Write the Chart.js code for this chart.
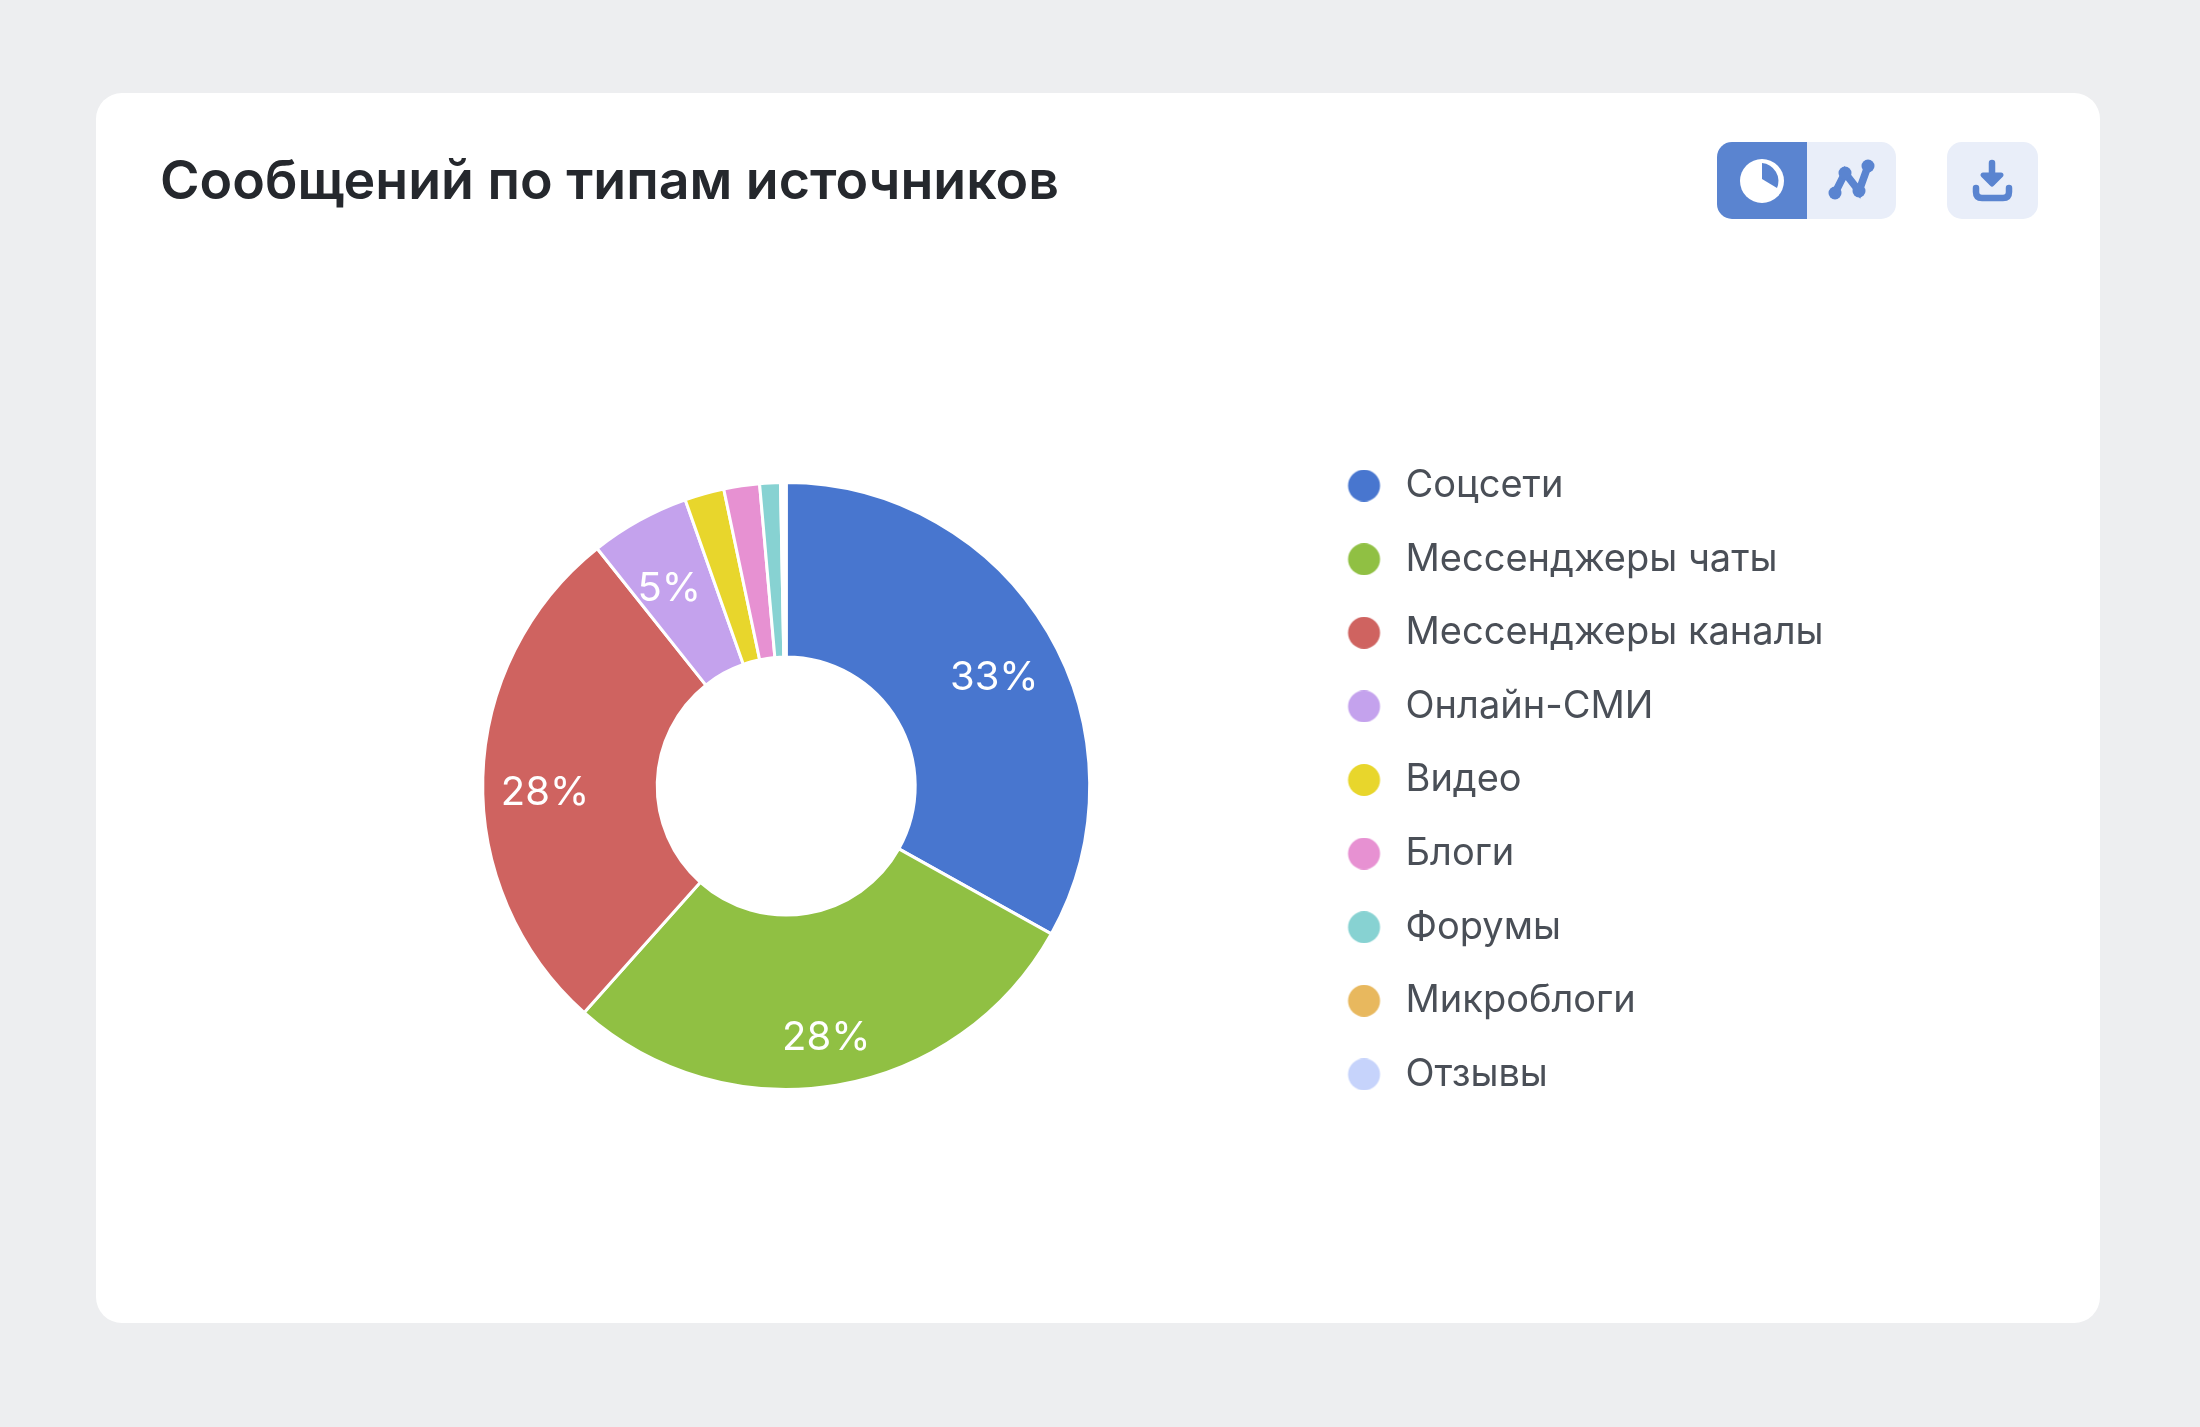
<!DOCTYPE html>
<html lang="ru"><head><meta charset="utf-8">
<style>
html,body{margin:0;padding:0;width:2200px;height:1427px;background:#edeef0;overflow:hidden;font-family:Inter,sans-serif}
#card{position:absolute;left:96px;top:93px;width:2004px;height:1230px;background:#fff;border-radius:26px}
#title{position:absolute;left:160px;top:144px;margin:0;font:600 53.7px/72px Inter,sans-serif;color:#25282d;white-space:nowrap}
.btn{position:absolute;top:142px;height:77px;background:#e9eef9}
.btn svg{display:block}
#b1{left:1717px;width:90px;background:#5a84d0;border-radius:15px 0 0 15px}
#b2{left:1807px;width:89px;border-radius:0 15px 15px 0}
#b3{left:1947px;width:91px;border-radius:15px}
#wrap{position:absolute;left:96px;top:200px;width:2004px;height:1172px}
</style>
<script src="https://cdn.jsdelivr.net/npm/chart.js@4/dist/chart.umd.js"></script>
</head><body>
<div id="card"></div>
<h1 id="title">Сообщений по типам источников</h1>
<div class="btn" id="b1"><svg width="90" height="77" viewBox="0 0 90 77"><circle cx="45" cy="39" r="22" fill="#fff"/><path d="M45 21A18 18 0 0 1 60 46L45 37Z" fill="#5a84d0"/></svg></div>
<div class="btn" id="b2"><svg width="89" height="77" viewBox="0 0 89 77"><path d="M28 51L38 31L52 49L61 24" fill="none" stroke="#5a84d0" stroke-width="7.5"/><circle cx="28" cy="51" r="6.5" fill="#5a84d0"/><circle cx="38" cy="31" r="6.5" fill="#5a84d0"/><circle cx="52" cy="49" r="6.5" fill="#5a84d0"/><circle cx="61" cy="24" r="6.5" fill="#5a84d0"/></svg></div>
<div class="btn" id="b3"><svg width="91" height="77" viewBox="0 0 91 77"><path d="M45 21V40" stroke="#5a84d0" stroke-width="6.5" stroke-linecap="round"/><path d="M36 33H54L45 42Z" fill="#5a84d0" stroke="#5a84d0" stroke-width="5" stroke-linejoin="round"/><path d="M29 46V50Q29 56 35 56H56Q62 56 62 50V46" fill="none" stroke="#5a84d0" stroke-width="6.5" stroke-linecap="round"/></svg></div>
<div id="wrap"><canvas id="c" width="2004" height="1172"></canvas></div>
<script>
const categories = ["Соцсети","Мессенджеры чаты","Мессенджеры каналы","Онлайн-СМИ","Видео","Блоги","Форумы","Микроблоги","Отзывы"];
const shareValues = [33.1,28.49,27.71,5.3,2.1,1.9,1.1,0.15,0.15];
const sliceColors = ["#4876cf","#90c043","#cf6360","#c4a2ed","#e8d62c","#e791d2","#87d2d2","#e8b85e","#c6d3fb"];

function dot(color){
  const k=document.createElement('canvas');k.width=40;k.height=32;
  const x=k.getContext('2d');x.fillStyle=color;x.beginPath();x.arc(17.5,16,16,0,Math.PI*2);x.fill();
  return k;
}
const legendNudge={id:'legendNudge',afterLayout(chart){chart.legend.top-=6;chart.legend.bottom-=6;}};
const pctLabels={id:'pctLabels',afterDatasetsDraw(chart){
  const ctx=chart.ctx,arcs=chart.getDatasetMeta(0).data;
  ctx.save();ctx.font='400 40px Inter, sans-serif';ctx.fillStyle='#fff';ctx.textAlign='center';ctx.textBaseline='middle';
  arcs.forEach((a,i)=>{
    const v=shareValues[i];if(v<5)return;
    const mid=(a.startAngle+a.endAngle)/2,r=a.outerRadius*0.795;
    ctx.fillText(Math.round(v)+'%',a.x+Math.cos(mid)*r,a.y+Math.sin(mid)*r+14);
  });
  ctx.restore();
}};
new Chart(document.getElementById('c'),{
  type:'doughnut',
  data:{labels:categories,datasets:[{data:shareValues,backgroundColor:sliceColors,borderColor:'#fff',borderWidth:3,radius:303.5,cutout:'42.5%'}]},
  plugins:[legendNudge,pctLabels],
  options:{
    responsive:false,animation:false,devicePixelRatio:1,
    layout:{padding:{left:165.5,right:266.5}},
    plugins:{
      tooltip:{enabled:false},
      legend:{position:'right',align:'center',maxWidth:800,
        labels:{usePointStyle:true,pointStyleWidth:40,boxHeight:24,color:'#4a4f57',font:{family:'Inter, sans-serif',size:38},padding:35.6,
          generateLabels(chart){
            return Chart.overrides.doughnut.plugins.legend.labels.generateLabels(chart).map((it,i)=>({...it,pointStyle:dot(sliceColors[i]),fontColor:'#4a4f57',lineWidth:0}));
          }}}
    }
  }
});
</script>
</body></html>
